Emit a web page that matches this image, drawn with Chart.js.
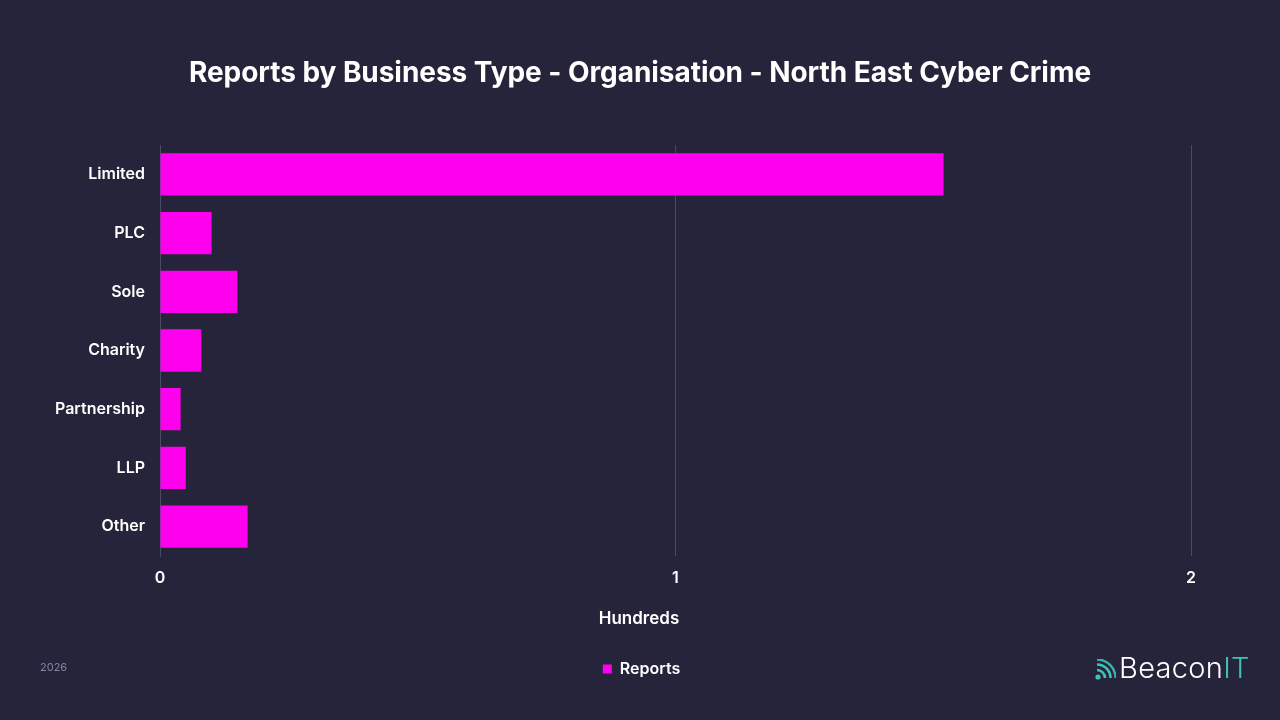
<!DOCTYPE html>
<html lang="en">
<head>
    <meta charset="UTF-8">
    <title>Reports by Business Type</title>
    <script src="https://cdn.jsdelivr.net/npm/chart.js"></script>
    <style>
        body {
            margin: 0;
            background: #25243a;
            font-family: Inter, "Noto Sans", sans-serif;
        }
        .wrap {
            position: relative;
            width: 1280px;
            height: 720px;
        }
        .title {
            position: absolute;
            left: 0;
            top: 55px;
            width: 1280px;
            text-align: center;
            font-size: 28px;
            font-weight: 700;
            color: #ffffff;
            letter-spacing: -0.05px;
        }
        .year {
            position: absolute;
            left: 40px;
            top: 660px;
            font-size: 11px;
            color: #8584a3;
        }
        .logo {
            position: absolute;
            left: 1094px;
            top: 650px;
            display: flex;
            align-items: center;
            font-size: 29px;
            font-weight: 300;
            color: #ffffff;
            letter-spacing: 0.3px;
        }
        .logo span { color: #3fc1b8; }
        .logo svg { margin-right: 3px; margin-top: 4px; }
    </style>
</head>
<body>
<div class="wrap">
    <canvas id="chart" width="1280" height="720"></canvas>
    <div class="title">Reports by Business Type - Organisation - North East Cyber Crime</div>
    <div class="year">2026</div>
    <div class="logo">
        <svg width="22" height="22" viewBox="0 0 22 22">
            <circle cx="4" cy="18" r="2.6" fill="#3fc1b8"/>
            <path d="M3 11 A8 8 0 0 1 11 19" stroke="#3fc1b8" stroke-width="2.6" fill="none"/>
            <path d="M3 5.5 A13.5 13.5 0 0 1 16.5 19" stroke="#3fc1b8" stroke-width="2.6" fill="none"/>
            <path d="M3 0.5 A18.5 18.5 0 0 1 21.5 19" stroke="#3fc1b8" stroke-width="2.4" fill="none" opacity="0.9"/>
        </svg>
        Beacon<span>IT</span>
    </div>
</div>

<script>
    const categories = ["Limited", "PLC", "Sole", "Charity", "Partnership", "LLP", "Other"];
    const reports = [1.52, 0.10, 0.15, 0.08, 0.04, 0.05, 0.17]; // hundreds
    const xTicks = [0, 1, 2];
    const xTitle = "Hundreds";

    const white = "#ffffff";
    const gridColor = "#4a4966";

    // legend and axis title are centred on the page, not on the plot
    const pageCentre = {
        id: "pageCentre",
        afterLayout(chart) {
            const lg = chart.legend;
            if (lg) { lg.left += 46; lg.right += 46; }
        },
        afterDraw(chart) {
            const ctx = chart.ctx;
            ctx.save();
            ctx.fillStyle = white;
            ctx.font = "600 17px Inter";
            ctx.textAlign = "center";
            ctx.textBaseline = "middle";
            ctx.fillText(xTitle, chart.width / 2 - 1, chart.scales.x.top + 63);
            ctx.restore();
        }
    };

    new Chart(document.getElementById("chart"), {
        type: "bar",
        data: {
            labels: categories,
            datasets: [{
                label: "Reports",
                data: reports,
                backgroundColor: "#ff00ee",
                borderWidth: 0,
                categoryPercentage: 0.72,
                barPercentage: 1
            }]
        },
        options: {
            indexAxis: "y",
            responsive: false,
            animation: false,
            layout: {
                padding: { top: 145, left: 0, right: 89, bottom: 33 }
            },
            plugins: {
                legend: {
                    position: "bottom",
                    labels: {
                        color: white,
                        font: { size: 16, weight: "600", family: "Inter" },
                        boxWidth: 9,
                        boxHeight: 9,
                        padding: 10
                    }
                },
                tooltip: { enabled: false }
            },
            scales: {
                x: {
                    min: 0,
                    max: 2,
                    afterBuildTicks: (scale) => {
                        scale.ticks = xTicks.map(v => ({ value: v }));
                    },
                    afterFit: (scale) => { scale.height = 95; },
                    grid: { color: gridColor, drawTicks: false },
                    border: { display: false },
                    ticks: {
                        color: white,
                        padding: 13,
                        font: { size: 16, weight: "600", family: "Inter" }
                    }
                },
                y: {
                    grid: { display: false },
                    border: { display: true, color: gridColor },
                    ticks: {
                        color: white,
                        padding: 7,
                        font: { size: 16, weight: "600", family: "Inter" }
                    },
                    afterFit: (scale) => { scale.width = 160; }
                }
            }
        },
        plugins: [pageCentre]
    });
</script>
</body>
</html>
